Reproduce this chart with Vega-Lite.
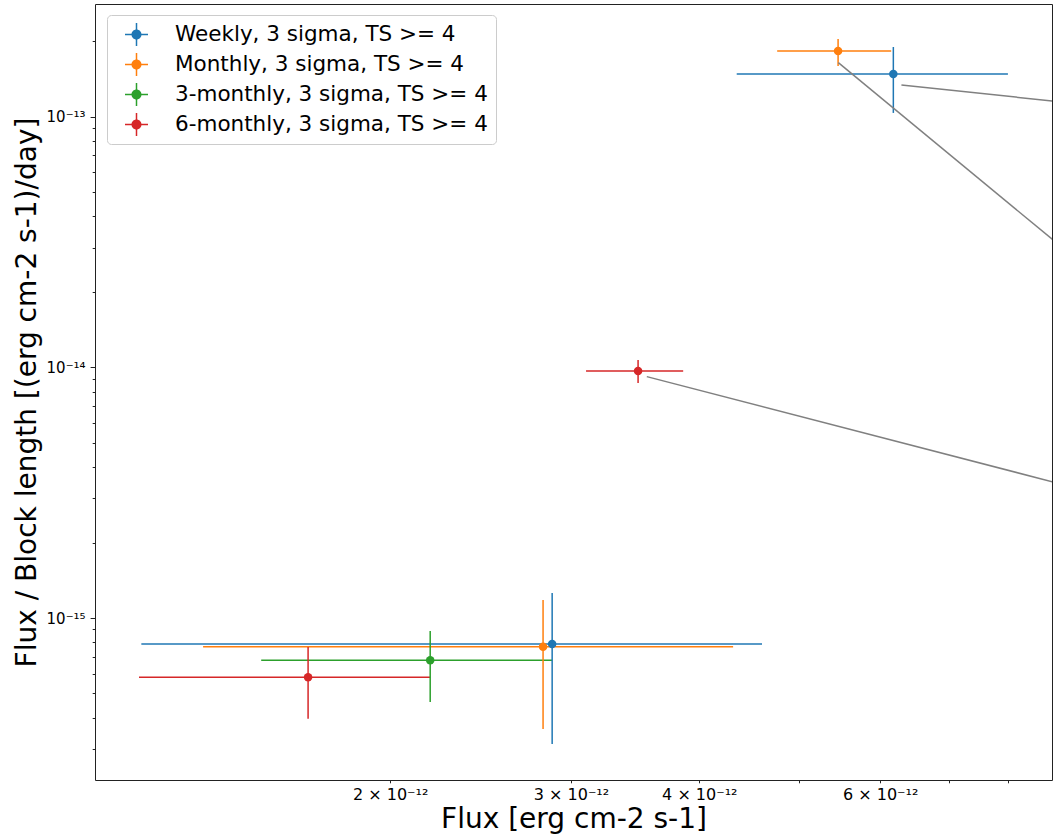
{
  "$schema": "https://vega.github.io/schema/vega-lite/v6.json",
  "width": 957,
  "height": 776,
  "autosize": {"type": "none"},
  "padding": {"left": 95, "top": 4, "right": 1, "bottom": 57},
  "background": "white",
  "config": {
    "view": {"stroke": "#222222", "strokeWidth": 1},
    "axis": {"grid": false, "labelFont": "DejaVu Sans", "titleFont": "DejaVu Sans", "labelColor": "black", "titleColor": "black", "tickColor": "#222222", "domain": false, "titleFontWeight": "normal", "labelOverlap": false, "labelFlush": false, "labelBound": false}
  },
  "datasets": {
    "pts": [
      {"series": "Weekly, 3 sigma, TS >= 4", "x": 6.18e-12, "y": 1.48e-13, "xlo": 4.35e-12, "xhi": 7.99e-12, "ylo": 1.035e-13, "yhi": 1.896e-13},
      {"series": "Weekly, 3 sigma, TS >= 4", "x": 2.876e-12, "y": 7.87e-16, "xlo": 1.145e-12, "xhi": 4.604e-12, "ylo": 3.14e-16, "yhi": 1.258e-15},
      {"series": "Monthly, 3 sigma, TS >= 4", "x": 5.46e-12, "y": 1.829e-13, "xlo": 4.763e-12, "xhi": 6.15e-12, "ylo": 1.593e-13, "yhi": 2.042e-13},
      {"series": "Monthly, 3 sigma, TS >= 4", "x": 2.818e-12, "y": 7.68e-16, "xlo": 1.315e-12, "xhi": 4.315e-12, "ylo": 3.607e-16, "yhi": 1.18e-15},
      {"series": "3-monthly, 3 sigma, TS >= 4", "x": 2.188e-12, "y": 6.78e-16, "xlo": 1.498e-12, "xhi": 2.876e-12, "ylo": 4.62e-16, "yhi": 8.87e-16},
      {"series": "6-monthly, 3 sigma, TS >= 4", "x": 3.487e-12, "y": 9.67e-15, "xlo": 3.103e-12, "xhi": 3.858e-12, "ylo": 8.66e-15, "yhi": 1.07e-14},
      {"series": "6-monthly, 3 sigma, TS >= 4", "x": 1.664e-12, "y": 5.8e-16, "xlo": 1.139e-12, "xhi": 2.188e-12, "ylo": 3.963e-16, "yhi": 7.66e-16}
    ],
    "ann": [
      {"id": "a", "x": 6.293e-12, "y": 1.338e-13},
      {"id": "a", "x": 9.826e-12, "y": 1.102e-13},
      {"id": "b", "x": 5.463e-12, "y": 1.642e-13},
      {"id": "b", "x": 9.826e-12, "y": 2.254e-14},
      {"id": "c", "x": 3.556e-12, "y": 9.18e-15},
      {"id": "c", "x": 9.826e-12, "y": 3.118e-15}
    ]
  },
  "layer": [
    {
      "data": {"name": "pts"},
      "mark": {"type": "point", "filled": true, "shape": "circle", "size": 0, "opacity": 1},
      "encoding": {
        "x": {"field": "x", "type": "quantitative",
          "scale": {"type": "log", "domain": [1.032e-12, 8.82e-12], "nice": false, "zero": false},
          "axis": {"orient": "bottom", "values": [2e-12, 3e-12, 4e-12, 5e-12, 6e-12, 7e-12, 8e-12], "tickSize": 2.8, "labelPadding": 4, "labelFontSize": 16, "labelBaseline": "top",
            "labelExpr": "datum.value < 2.5e-12 ? '2 × 10⁻¹²' : datum.value < 3.5e-12 ? '3 × 10⁻¹²' : datum.value < 4.5e-12 ? '4 × 10⁻¹²' : (datum.value > 5.5e-12 && datum.value < 6.5e-12) ? '6 × 10⁻¹²' : ''",
            "title": "Flux [erg cm-2 s-1]", "titleFontSize": 28, "titlePadding": 3}},
        "y": {"field": "y", "type": "quantitative",
          "scale": {"type": "log", "domain": [2.258e-16, 2.815e-13], "nice": false, "zero": false},
          "axis": {"orient": "left", "values": [1e-15, 1e-14, 1e-13], "tickSize": 4.9, "labelPadding": 5, "labelFontSize": 15,
            "labelExpr": "datum.value < 5e-15 ? '10⁻¹⁵' : datum.value < 5e-14 ? '10⁻¹⁴' : '10⁻¹³'",
            "title": "Flux / Block length [(erg cm-2 s-1)/day]", "titleFontSize": 28, "titlePadding": 5}},
        "color": {"field": "series", "type": "nominal",
          "scale": {"domain": ["Weekly, 3 sigma, TS >= 4", "Monthly, 3 sigma, TS >= 4", "3-monthly, 3 sigma, TS >= 4", "6-monthly, 3 sigma, TS >= 4"], "range": ["#1f77b4", "#ff7f0e", "#2ca02c", "#d62728"]},
          "legend": {"orient": "none", "legendX": 12, "legendY": 11, "title": null,
            "symbolType": "M-1,-0.065H1V0.065H-1Z M-0.065,-1H0.065V1H-0.065Z M0.435,0A0.435,0.435,0,1,1,-0.435,0A0.435,0.435,0,1,1,0.435,0Z",
            "symbolSize": 529, "symbolStrokeWidth": 0, "symbolOpacity": 1,
            "labelFont": "DejaVu Sans", "labelFontSize": 21.5, "labelColor": "black", "labelLimit": 400,
            "padding": 8, "rowPadding": 7, "labelOffset": 27, "symbolOffset": 10,
            "strokeColor": "#cccccc", "fillColor": "white", "cornerRadius": 4}}
      }
    },
    {
      "data": {"name": "pts"},
      "mark": {"type": "rule", "strokeWidth": 1.5},
      "encoding": {
        "x": {"field": "xlo", "type": "quantitative"},
        "x2": {"field": "xhi"},
        "y": {"field": "y", "type": "quantitative", "axis": null},
        "color": {"field": "series", "type": "nominal"}
      }
    },
    {
      "data": {"name": "pts"},
      "mark": {"type": "rule", "strokeWidth": 1.5},
      "encoding": {
        "x": {"field": "x", "type": "quantitative"},
        "y": {"field": "ylo", "type": "quantitative",
          "axis": {"orient": "left", "values": [3e-16, 4e-16, 5e-16, 6e-16, 7e-16, 8e-16, 9e-16, 2e-15, 3e-15, 4e-15, 5e-15, 6e-15, 7e-15, 8e-15, 9e-15, 2e-14, 3e-14, 4e-14, 5e-14, 6e-14, 7e-14, 8e-14, 9e-14, 2e-13], "tickSize": 2.8, "labels": false, "title": null}},
        "y2": {"field": "yhi"},
        "color": {"field": "series", "type": "nominal"}
      }
    },
    {
      "data": {"name": "pts"},
      "mark": {"type": "point", "filled": true, "shape": "circle", "size": 72, "opacity": 1},
      "encoding": {
        "x": {"field": "x", "type": "quantitative"},
        "y": {"field": "y", "type": "quantitative", "axis": null},
        "color": {"field": "series", "type": "nominal"}
      }
    },
    {
      "data": {"name": "ann"},
      "mark": {"type": "line", "color": "#808080", "strokeWidth": 1.5, "clip": true},
      "encoding": {
        "x": {"field": "x", "type": "quantitative"},
        "y": {"field": "y", "type": "quantitative", "axis": null},
        "detail": {"field": "id"}
      }
    }
  ],
  "resolve": {"axis": {"y": "independent"}}
}
